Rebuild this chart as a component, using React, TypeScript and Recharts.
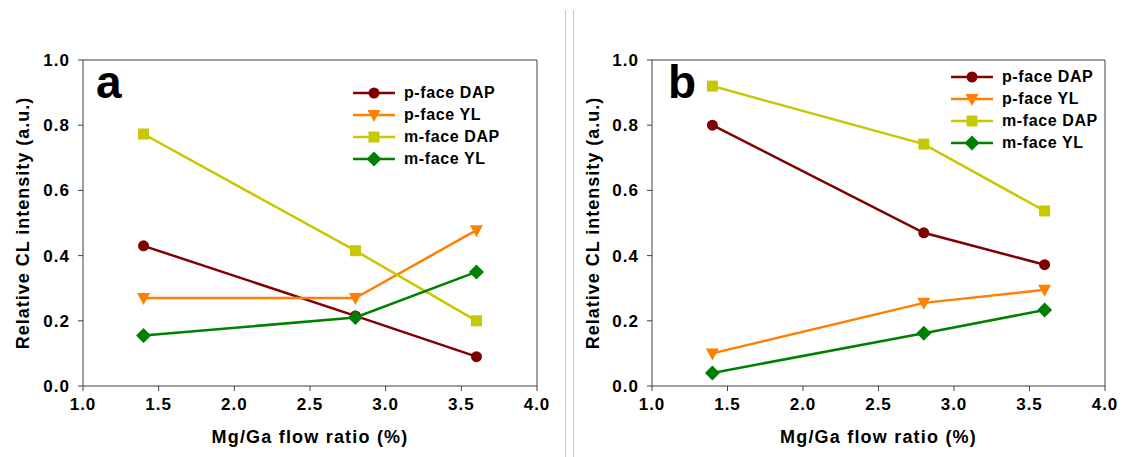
import React from 'react';
import { LineChart, Line, XAxis, YAxis, ReferenceLine } from 'recharts';

const flowRatio = [1.4, 2.8, 3.6];
const xTicks = [1.0, 1.5, 2.0, 2.5, 3.0, 3.5, 4.0];
const yTicks = [0.0, 0.2, 0.4, 0.6, 0.8, 1.0];
const seriesNames = ['p-face DAP', 'p-face YL', 'm-face DAP', 'm-face YL'];

// panel a
const aPDap = [0.43, 0.215, 0.09];
const aPYl = [0.27, 0.27, 0.478];
const aMDap = [0.773, 0.415, 0.2];
const aMYl = [0.155, 0.21, 0.35];

// panel b
const bPDap = [0.8, 0.47, 0.372];
const bPYl = [0.1, 0.255, 0.295];
const bMDap = [0.92, 0.742, 0.537];
const bMYl = [0.04, 0.162, 0.233];

const COLORS: Record<string, string> = {
  'p-face DAP': '#800000',
  'p-face YL': '#ff8000',
  'm-face DAP': '#c8c800',
  'm-face YL': '#008000',
};
const KEYS: Record<string, string> = {
  'p-face DAP': 'pDap',
  'p-face YL': 'pYl',
  'm-face DAP': 'mDap',
  'm-face YL': 'mYl',
};

const FONT = 'Liberation Sans, Arial, sans-serif';
const AXIS = '#404040';

const buildRows = (pDap: number[], pYl: number[], mDap: number[], mYl: number[]) =>
  flowRatio.map((x, i) => ({ x, pDap: pDap[i], pYl: pYl[i], mDap: mDap[i], mYl: mYl[i] }));

const panelA = buildRows(aPDap, aPYl, aMDap, aMYl);
const panelB = buildRows(bPDap, bPYl, bMDap, bMYl);

function Marker({ name, cx, cy }: { name: string; cx: number; cy: number }) {
  const c = COLORS[name];
  if (cx == null || cy == null) return null;
  if (name === 'p-face DAP') return <circle cx={cx} cy={cy} r={5.5} fill={c} />;
  if (name === 'p-face YL')
    return <polygon points={`${cx - 6.5},${cy - 5} ${cx + 6.5},${cy - 5} ${cx},${cy + 7}`} fill={c} />;
  if (name === 'm-face DAP') return <rect x={cx - 5.5} y={cy - 5.5} width={11} height={11} fill={c} />;
  return <polygon points={`${cx},${cy - 7.5} ${cx + 7.5},${cy} ${cx},${cy + 7.5} ${cx - 7.5},${cy}`} fill={c} />;
}

function LegendBox({ left, top }: { left: number; top: number }) {
  return (
    <div style={{ position: 'absolute', left, top, fontFamily: FONT, fontWeight: 'bold', fontSize: 16,
      letterSpacing: 0.6, color: '#000' }}>
      {seriesNames.map((n) => (
        <div key={n} style={{ display: 'flex', alignItems: 'center', height: 22 }}>
          <svg width={44} height={20} style={{ marginRight: 8 }}>
            <line x1={1} y1={10} x2={43} y2={10} stroke={COLORS[n]} strokeWidth={2.5} />
            <Marker name={n} cx={22} cy={10} />
          </svg>
          <span>{n}</span>
        </div>
      ))}
    </div>
  );
}

function YTitle(props: any) {
  const vb = props.viewBox || {};
  const x = vb.x + 23;
  const y = vb.y + vb.height / 2;
  return (
    <text x={x} y={y} transform={`rotate(-90 ${x} ${y})`} textAnchor="middle" dominantBaseline="central"
      fontFamily={FONT} fontWeight="bold" fontSize={18} letterSpacing={1} fill="#000">
      Relative CL intensity (a.u.)
    </text>
  );
}

function XTitle(props: any) {
  const vb = props.viewBox || {};
  const x = vb.x + vb.width / 2;
  return (
    <text x={x} y={vb.y + 51} textAnchor="middle" dominantBaseline="central"
      fontFamily={FONT} fontWeight="bold" fontSize={18} letterSpacing={1.2} fill="#000">
      Mg/Ga flow ratio (%)
    </text>
  );
}

const tickStyle = { fontFamily: FONT, fontWeight: 'bold', fontSize: 17, letterSpacing: 1, fill: '#000' };

function Panel({ data, letter, width, yAxisWidth, letterPos }: any) {
  return (
    <LineChart width={width} height={457} data={data} margin={{ top: 60, right: 21, bottom: 11, left: 0 }}>
      <XAxis dataKey="x" type="number" domain={[1, 4]} ticks={xTicks} tickFormatter={(v) => v.toFixed(1)}
        stroke={AXIS} tickSize={5} tickMargin={7} tick={tickStyle} height={60} label={<XTitle />} />
      <YAxis domain={[0, 1]} ticks={yTicks} tickFormatter={(v) => v.toFixed(1)} stroke={AXIS} tickSize={5}
        tickMargin={8} tick={tickStyle} width={yAxisWidth} label={<YTitle />} />
      <ReferenceLine y={1} stroke={AXIS} strokeWidth={1} />
      <ReferenceLine x={4} stroke={AXIS} strokeWidth={1} />
      {seriesNames.map((n) => (
        <Line key={n} name={n} dataKey={KEYS[n]} stroke={COLORS[n]} strokeWidth={2.5} isAnimationActive={false}
          dot={(p: any) => <Marker key={`${n}-${p.index}`} name={n} cx={p.cx} cy={p.cy} />} activeDot={false} />
      ))}
      <text x={letterPos[0]} y={letterPos[1]} fontFamily={FONT} fontWeight="bold" fontSize={46} fill="#000">
        {letter}
      </text>
    </LineChart>
  );
}

export default function App() {
  return (
    <div style={{ position: 'absolute', left: 0, top: 0, width: 1126, height: 457, background: '#fff' }}>
      <div style={{ position: 'absolute', left: 0, top: 0 }}>
        <Panel data={panelA} letter="a" width={558} yAxisWidth={83} letterPos={[96, 98]} />
      </div>
      <LegendBox left={352} top={82} />
      <div style={{ position: 'absolute', left: 565, top: 10, width: 1, height: 447, background: '#c8c8c8' }} />
      <div style={{ position: 'absolute', left: 573, top: 10, width: 1, height: 447, background: '#c8c8c8' }} />
      <div style={{ position: 'absolute', left: 570, top: 0 }}>
        <Panel data={panelB} letter="b" width={556} yAxisWidth={82} letterPos={[98, 98]} />
      </div>
      <LegendBox left={950} top={66} />
    </div>
  );
}
